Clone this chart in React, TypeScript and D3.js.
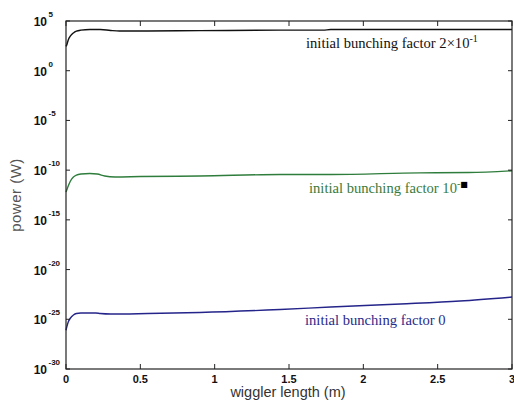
import React from "react";
import * as d3 from "d3";

// x = wiggler length (m); y = log10(power in W)
const blackX = [0, 0.005, 0.015, 0.03, 0.05, 0.07, 0.1, 0.16, 0.23, 0.3, 0.36, 0.55, 0.9, 1.44, 1.73, 1.78, 2.25, 3.0];
const blackLog = [2.45, 2.6, 3.1, 3.5, 3.8, 3.98, 4.08, 4.14, 4.14, 4.05, 4.0, 4.0, 4.03, 4.08, 4.08, 4.14, 4.14, 4.15];

const greenX = [0, 0.005, 0.015, 0.03, 0.05, 0.07, 0.1, 0.16, 0.21, 0.26, 0.33, 0.5, 0.9, 1.44, 1.78, 2.38, 2.71, 3.0];
const greenLog = [-12.2, -12.0, -11.6, -11.09, -10.69, -10.49, -10.39, -10.34, -10.39, -10.59, -10.69, -10.64, -10.59, -10.44, -10.44, -10.27, -10.24, -10.06];

const blueX = [0, 0.005, 0.015, 0.03, 0.05, 0.07, 0.1, 0.2, 0.23, 0.3, 0.55, 0.9, 1.44, 1.78, 2.25, 2.65, 3.0];
const blueLog = [-26.1, -25.78, -25.27, -24.87, -24.57, -24.42, -24.37, -24.37, -24.42, -24.47, -24.42, -24.32, -24.02, -23.77, -23.46, -23.16, -22.76];

const xTicks = [0, 0.5, 1, 1.5, 2, 2.5, 3];
const xTickLabels = ["0", "0.5", "1", "1.5", "2", "2.5", "3"];
const yTickExps = [5, 0, -5, -10, -15, -20, -25, -30];

const seriesLabels = [
  { text: "initial bunching factor 2×10", sup: "-1", supExtra: "" },
  { text: "initial bunching factor 10", sup: "-", supExtra: "■" },
  { text: "initial bunching factor 0", sup: "", supExtra: "" },
];

const W = 514;
const H = 407;
const M = { left: 66, right: 512, top: 21, bottom: 369 };

export default function App() {
  const x = d3.scaleLinear().domain([0, 3]).range([M.left, M.right]);
  const y = d3.scaleLog().domain([1e-30, 1e5]).range([M.bottom, M.top]);

  const line = d3
    .line<[number, number]>()
    .x((d) => x(d[0]))
    .y((d) => y(Math.pow(10, d[1])))
    .curve(d3.curveMonotoneX);

  const series = [
    { xs: blackX, ys: blackLog, color: "#111111" },
    { xs: greenX, ys: greenLog, color: "#2f7d3c" },
    { xs: blueX, ys: blueLog, color: "#24248a" },
  ];

  const labelPos = [
    { x: 306, y: 48, color: "#111111" },
    { x: 309, y: 193, color: "#3a7a3a" },
    { x: 305, y: 325, color: "#2a2a8a" },
  ];

  const tickLen = 5;
  const frame = "#222";

  return (
    <svg
      width={W}
      height={H}
      style={{ position: "absolute", left: 0, top: 0, background: "#fff" }}
    >
      <rect x={0} y={0} width={W} height={H} fill="#fff" />
      {/* curves */}
      {series.map((s, i) => (
        <path
          key={i}
          d={line(s.xs.map((v, j) => [v, s.ys[j]] as [number, number])) || ""}
          fill="none"
          stroke={s.color}
          strokeWidth={1.4}
        />
      ))}
      {/* frame */}
      <rect
        x={M.left}
        y={M.top}
        width={M.right - M.left}
        height={M.bottom - M.top}
        fill="none"
        stroke={frame}
        strokeWidth={1.2}
      />
      {/* x ticks */}
      {xTicks.map((t, i) => (
        <g key={"xt" + i}>
          <line x1={x(t)} x2={x(t)} y1={M.bottom} y2={M.bottom - tickLen} stroke={frame} />
          <line x1={x(t)} x2={x(t)} y1={M.top} y2={M.top + tickLen} stroke={frame} />
          <text
            x={x(t)}
            y={382.5}
            textAnchor="middle"
            fontFamily="Liberation Sans, Arial, sans-serif"
            fontWeight="bold"
            fontSize={11}
            fill="#111"
          >
            {xTickLabels[i]}
          </text>
        </g>
      ))}
      {/* y ticks */}
      {yTickExps.map((e, i) => {
        const yy = y(Math.pow(10, e));
        return (
          <g key={"yt" + i}>
            <line x1={M.left} x2={M.left + 4} y1={yy} y2={yy} stroke={frame} />
            <line x1={M.right} x2={M.right - 4} y1={yy} y2={yy} stroke={frame} />
            <text
              x={47}
              y={yy + 5}
              textAnchor="end"
              fontFamily="Liberation Sans, Arial, sans-serif"
              fontWeight="bold"
              fontSize={12}
              fill="#111"
            >
              10
            </text>
            <text
              x={48.5}
              y={yy - 4}
              textAnchor="start"
              fontFamily="Liberation Sans, Arial, sans-serif"
              fontWeight="bold"
              fontSize={8}
              fill="#111"
            >
              {e === 0 ? "0" : String(e)}
            </text>
          </g>
        );
      })}
      {/* axis labels */}
      <text
        x={288}
        y={396.5}
        textAnchor="middle"
        fontFamily="Liberation Sans, Arial, sans-serif"
        fontSize={14.5}
        fill="#333"
      >
        wiggler length (m)
      </text>
      <text
        transform="translate(21,195) rotate(-90)"
        textAnchor="middle"
        fontFamily="Liberation Sans, Arial, sans-serif"
        fontSize={15}
        letterSpacing={0.5}
        fill="#555"
      >
        power (W)
      </text>
      {/* series labels */}
      {seriesLabels.map((l, i) => (
        <text
          key={"sl" + i}
          x={labelPos[i].x}
          y={labelPos[i].y}
          fontFamily="Liberation Serif, Times New Roman, serif"
          fontSize={14.6}
          fill={labelPos[i].color}
        >
          {l.text}
          {l.sup && (
            <tspan dy={-6} fontSize={10}>
              {l.sup}
            </tspan>
          )}
          {l.supExtra && (
            <tspan fontFamily="DejaVu Sans" fontSize={8} fill="#000" dy={0}>
              {l.supExtra}
            </tspan>
          )}
        </text>
      ))}
    </svg>
  );
}
